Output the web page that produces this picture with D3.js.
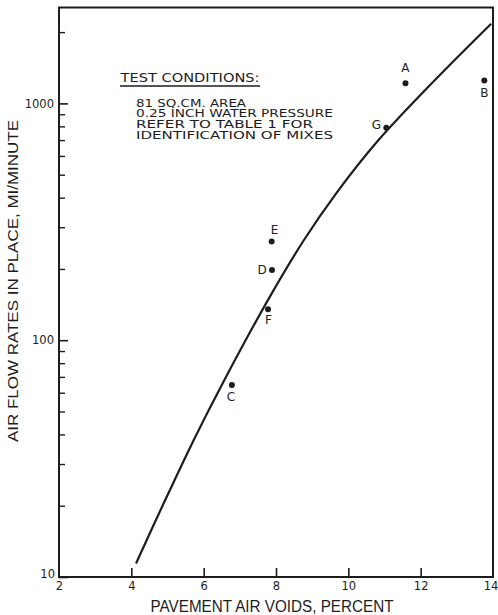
<!DOCTYPE html>
<html>
<head>
<meta charset="utf-8">
<script src="https://cdn.jsdelivr.net/npm/d3@7"></script>
<style>
  html, body { margin: 0; padding: 0; background: #fff; }
  svg { display: block; }
  text { fill: #1d1d1d; }
</style>
</head>
<body>
<svg id="chart" width="498" height="615"></svg>
<script>
// Air flow rate vs pavement air voids (log scale)
const xTicks = [2, 4, 6, 8, 10, 12, 14];
const yMajorTicks = [10, 100, 1000];
const yMinorTicks = [20, 30, 40, 50, 60, 70, 80, 90, 200, 300, 400, 500, 600, 700, 800, 900, 2000];

// Fitted trend curve
const curveVoids = [4.13, 4.87, 5.74, 6.53, 7.78, 8.76, 9.68, 10.8, 12.45, 13.95];
const curveFlow  = [11.4, 20.1, 38.3, 66, 148, 263, 420, 690, 1280, 2170];

// Measured mixes
const mixLabels = ["A", "B", "G", "E", "D", "F", "C"];
const mixVoids  = [11.58, 13.76, 11.05, 7.88, 7.89, 7.78, 6.78];
const mixFlow   = [1217, 1248, 790, 261, 198, 135, 64.7];

const conditionLines = [
  "81 SQ.CM. AREA",
  "0.25 INCH WATER PRESSURE",
  "REFER TO TABLE  1  FOR",
  "IDENTIFICATION OF MIXES"
];

// label placement relative to each dot (px)
const labelOffset = {
  A: [0, -15], B: [0, 12.5], G: [-10, -3], E: [3, -12],
  D: [-10, 0.5], F: [0.5, 10.5], C: [-1, 11.7]
};

const svg = d3.select("#chart");
const plotLeft = 59, plotRight = 493, plotTop = 7.5, plotBottom = 577;

const x = d3.scaleLinear().domain([2, 14]).range([plotLeft, plotRight]);
const y = d3.scaleLog().domain([10, 2541]).range([plotBottom, plotTop]);

const ink = "#1d1d1d";
const tickFont = "DejaVu Sans, sans-serif";

// x axis, ticks pointing inward
const xAxis = svg.append("g")
  .attr("transform", `translate(0,${plotBottom})`)
  .call(d3.axisBottom(x).tickValues(xTicks).tickSize(-9).tickPadding(5)
    .tickFormat(d3.format("d")));
xAxis.select(".domain").remove();
xAxis.selectAll("line").attr("stroke", ink).attr("stroke-width", 1.6);
xAxis.selectAll("text").attr("font-family", tickFont).attr("font-size", 11.5)
  .attr("fill", ink);
xAxis.selectAll(".tick").filter(d => d === 2 || d === 14).select("line").remove();
xAxis.selectAll(".tick").filter(d => d === 14).select("text").attr("x", -2.5);

// y axis major ticks
const yAxis = svg.append("g")
  .attr("transform", `translate(${plotLeft},0)`)
  .call(d3.axisLeft(y).tickValues(yMajorTicks).tickSize(-9).tickPadding(5)
    .tickFormat(d3.format("d")));
yAxis.select(".domain").remove();
yAxis.selectAll("line").attr("stroke", ink).attr("stroke-width", 1.6);
yAxis.selectAll("text").attr("font-family", tickFont).attr("font-size", 11.5)
  .attr("fill", ink);
yAxis.selectAll(".tick").filter(d => d === 10).select("text")
  .attr("dy", "0.05em").attr("x", -4);

// y axis minor ticks
const yMinor = svg.append("g")
  .attr("transform", `translate(${plotLeft},0)`)
  .call(d3.axisLeft(y).tickValues(yMinorTicks).tickSize(-6).tickFormat(""));
yMinor.select(".domain").remove();
yMinor.selectAll("line").attr("stroke", ink).attr("stroke-width", 1.4);

// plot frame
svg.append("rect")
  .attr("x", plotLeft).attr("y", plotTop)
  .attr("width", plotRight - plotLeft).attr("height", plotBottom - plotTop)
  .attr("fill", "none").attr("stroke", ink).attr("stroke-width", 2);

// trend curve
const curveData = curveVoids.map((v, i) => [v, curveFlow[i]]);
svg.append("path")
  .datum(curveData)
  .attr("fill", "none").attr("stroke", ink).attr("stroke-width", 2.2)
  .attr("d", d3.line().x(d => x(d[0])).y(d => y(d[1])).curve(d3.curveCatmullRom.alpha(0.5)));

// data points with letters
const mixes = mixLabels.map((l, i) => ({ label: l, v: mixVoids[i], f: mixFlow[i] }));
svg.append("g").selectAll("circle").data(mixes).join("circle")
  .attr("cx", d => x(d.v)).attr("cy", d => y(d.f)).attr("r", 3)
  .attr("fill", ink);
svg.append("g").selectAll("text").data(mixes).join("text")
  .attr("x", d => x(d.v) + labelOffset[d.label][0])
  .attr("y", d => y(d.f) + labelOffset[d.label][1])
  .attr("text-anchor", "middle").attr("dominant-baseline", "central")
  .attr("font-family", tickFont).attr("font-size", 12)
  .text(d => d.label);

// test conditions note
const note = svg.append("g").attr("font-family", tickFont).attr("fill", ink);
note.append("text").attr("x", 120.5).attr("y", 81.5)
  .attr("font-size", 12.5).attr("textLength", 139).attr("lengthAdjust", "spacingAndGlyphs")
  .text("TEST CONDITIONS:");
note.append("line").attr("x1", 120).attr("x2", 260).attr("y1", 86).attr("y2", 86)
  .attr("stroke", ink).attr("stroke-width", 1.6);
const noteWidths = [110, 197, 177, 197];
note.selectAll("text.cond").data(conditionLines).join("text")
  .attr("class", "cond")
  .attr("x", 136).attr("y", (d, i) => 106.7 + i * 10.6)
  .attr("font-size", 10.4)
  .attr("textLength", (d, i) => noteWidths[i]).attr("lengthAdjust", "spacingAndGlyphs")
  .text(d => d);

// axis titles
svg.append("text")
  .attr("x", 272).attr("y", 611.5).attr("text-anchor", "middle")
  .attr("font-family", "Liberation Sans, Arial, sans-serif").attr("font-size", 16)
  .attr("textLength", 243).attr("lengthAdjust", "spacingAndGlyphs")
  .text("PAVEMENT AIR VOIDS, PERCENT");
svg.append("text")
  .attr("transform", "translate(18,281) rotate(-90)").attr("text-anchor", "middle")
  .attr("font-family", "Liberation Sans, Arial, sans-serif").attr("font-size", 14.5)
  .attr("textLength", 322).attr("lengthAdjust", "spacingAndGlyphs")
  .text("AIR FLOW RATES IN PLACE, MI/MINUTE");
</script>
</body>
</html>
